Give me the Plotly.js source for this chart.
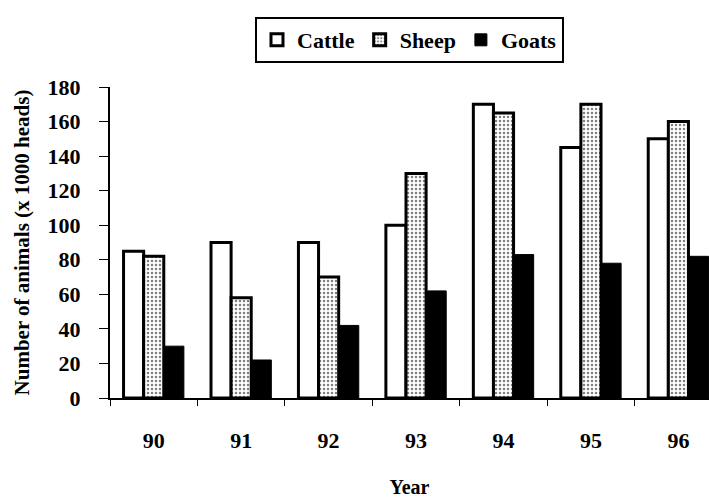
<!DOCTYPE html>
<html>
<head>
<meta charset="utf-8">
<script src="https://cdn.plot.ly/plotly-3.0.1.min.js"></script>
<style>
  html, body { margin: 0; padding: 0; background: #fff; }
  #chart { width: 709px; height: 501px; }
</style>
</head>
<body>
<div id="chart"></div>
<script>
// Livestock numbers per year (thousand heads)
const years = ['90', '91', '92', '93', '94', '95', '96'];
const cattle = [85, 90, 90, 100, 170, 145, 150];
const sheep = [82, 58, 70, 130, 165, 170, 160];
const goats = [30, 22, 42, 62, 83, 78, 82];

const serif = 'Liberation Serif';
const outline = { color: '#000', width: 3 };

const traces = [
  { type: 'bar', name: 'Cattle', x: years, y: cattle, marker: { color: '#fff', line: outline } },
  {
    type: 'bar', name: 'Sheep', x: years, y: sheep,
    marker: {
      color: '#fff', line: outline,
      pattern: { shape: '.', fillmode: 'overlay', fgcolor: '#000', bgcolor: '#fff', size: 4, solidity: 0.3 }
    }
  },
  { type: 'bar', name: 'Goats', x: years, y: goats, marker: { color: '#000', line: { color: '#000', width: 1 } } }
];

const layout = {
  width: 709, height: 501,
  margin: { l: 110, r: 0, t: 87, b: 103 },
  paper_bgcolor: '#fff', plot_bgcolor: '#fff',
  barmode: 'group', bargap: 0.31, bargroupgap: 0,
  font: { family: serif, color: '#000', size: 20, weight: 'bold' },
  legend: {
    orientation: 'h', x: 0.5, xanchor: 'center', y: 1.225, yanchor: 'top',
    bordercolor: '#000', borderwidth: 2, bgcolor: '#fff',
    font: { family: serif, size: 22, color: '#000', weight: 'bold' }
  },
  xaxis: {
    type: 'category', range: [-0.5, 6.35],
    showline: true, linecolor: '#000', linewidth: 2,
    ticks: 'outside', tickson: 'boundaries', ticklen: 6, tickcolor: '#000',
    ticklabelstandoff: 22, showgrid: false, zeroline: false,
    tickfont: { family: serif, size: 22, color: '#000', weight: 'bold' },
    title: { text: 'Year', standoff: 28, font: { family: serif, size: 20, color: '#000', weight: 'bold' } }
  },
  yaxis: {
    range: [0, 180], dtick: 20,
    showline: true, linecolor: '#000', linewidth: 2, showgrid: false, zeroline: false,
    ticks: 'outside', ticklen: 9, tickcolor: '#000', ticklabelstandoff: 14,
    tickfont: { family: serif, size: 22, color: '#000', weight: 'bold' },
    title: { text: 'Number of animals (x 1000 heads)', standoff: 12, font: { family: serif, size: 21, color: '#000', weight: 'bold' } }
  }
};

Plotly.newPlot('chart', traces, layout, { displayModeBar: false, staticPlot: true });
</script>
</body>
</html>
